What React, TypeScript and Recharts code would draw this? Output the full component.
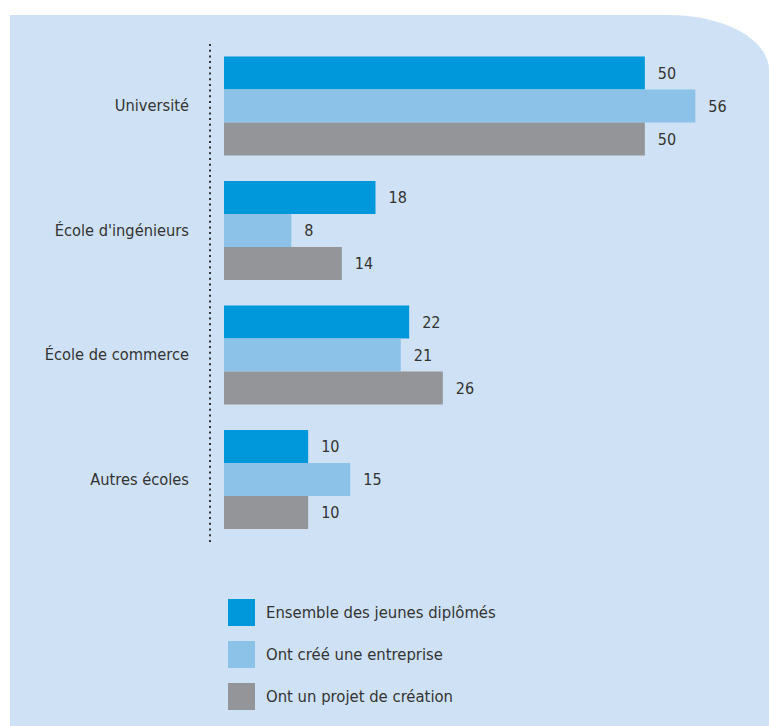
import { BarChart, Bar, XAxis, YAxis, LabelList } from "recharts";

const categories = ["Université", "École d'ingénieurs", "École de commerce", "Autres écoles"];
const ensemble = [50, 18, 22, 10];
const creeEntreprise = [56, 8, 21, 15];
const projetCreation = [50, 14, 26, 10];

const seriesNames = ["Ensemble des jeunes diplômés", "Ont créé une entreprise", "Ont un projet de création"];
const seriesColors = ["#0098da", "#8cc1e8", "#939598"];

const data = categories.map((name, i) => ({
  name,
  ensemble: ensemble[i],
  cree: creeEntreprise[i],
  projet: projetCreation[i],
}));

const FONT = '"Liberation Sans Narrow", "DejaVu Sans Condensed", "Roboto Condensed", Roboto, sans-serif';

function CategoryTick({ x, y, payload }: any) {
  return (
    <text x={x} y={y} dy={5} textAnchor="end" fill="#333" fontSize={16.3} fontFamily={FONT}>
      {payload.value}
    </text>
  );
}

export default function App() {
  const keys = ["ensemble", "cree", "projet"];
  return (
    <div style={{ position: "fixed", left: 0, top: 0, width: 769, height: 726, background: "#fff", overflow: "hidden" }}>
      <div
        style={{
          position: "absolute",
          left: 10,
          top: 15,
          width: 759,
          height: 711,
          background: "#cfe2f5",
          borderTopRightRadius: "100px 55px",
        }}
      />
      <div style={{ position: "absolute", left: 0, top: 0 }}>
        <BarChart
          width={769}
          height={726}
          data={data}
          layout="vertical"
          margin={{ top: 44, right: 40, bottom: 184, left: 0 }}
          barCategoryGap="10%"
          barGap={0}
        >
          <XAxis type="number" domain={[0, 60]} hide padding={{ left: 14, right: 0 }} />
          <YAxis
            dataKey="name"
            type="category"
            width={210}
            axisLine={{ stroke: "#333", strokeWidth: 2, strokeDasharray: "2 3.7" }}
            tickLine={false}
            tickSize={0}
            tickMargin={21}
            tick={<CategoryTick />}
          />
          {keys.map((k, i) => (
            <Bar key={k} dataKey={k} fill={seriesColors[i]} isAnimationActive={false}>
              <LabelList dataKey={k} position="right" offset={13} fill="#333" fontSize={16} fontFamily={FONT} />
            </Bar>
          ))}
        </BarChart>
      </div>
      <div style={{ position: "absolute", left: 228, top: 599, fontFamily: FONT, fontSize: 16.5, color: "#333" }}>
        {seriesNames.map((n, i) => (
          <div key={n} style={{ display: "flex", alignItems: "center", height: 27, marginBottom: 15 }}>
            <div style={{ width: 27, height: 27, background: seriesColors[i], marginRight: 11 }} />
            <span>{n}</span>
          </div>
        ))}
      </div>
    </div>
  );
}
